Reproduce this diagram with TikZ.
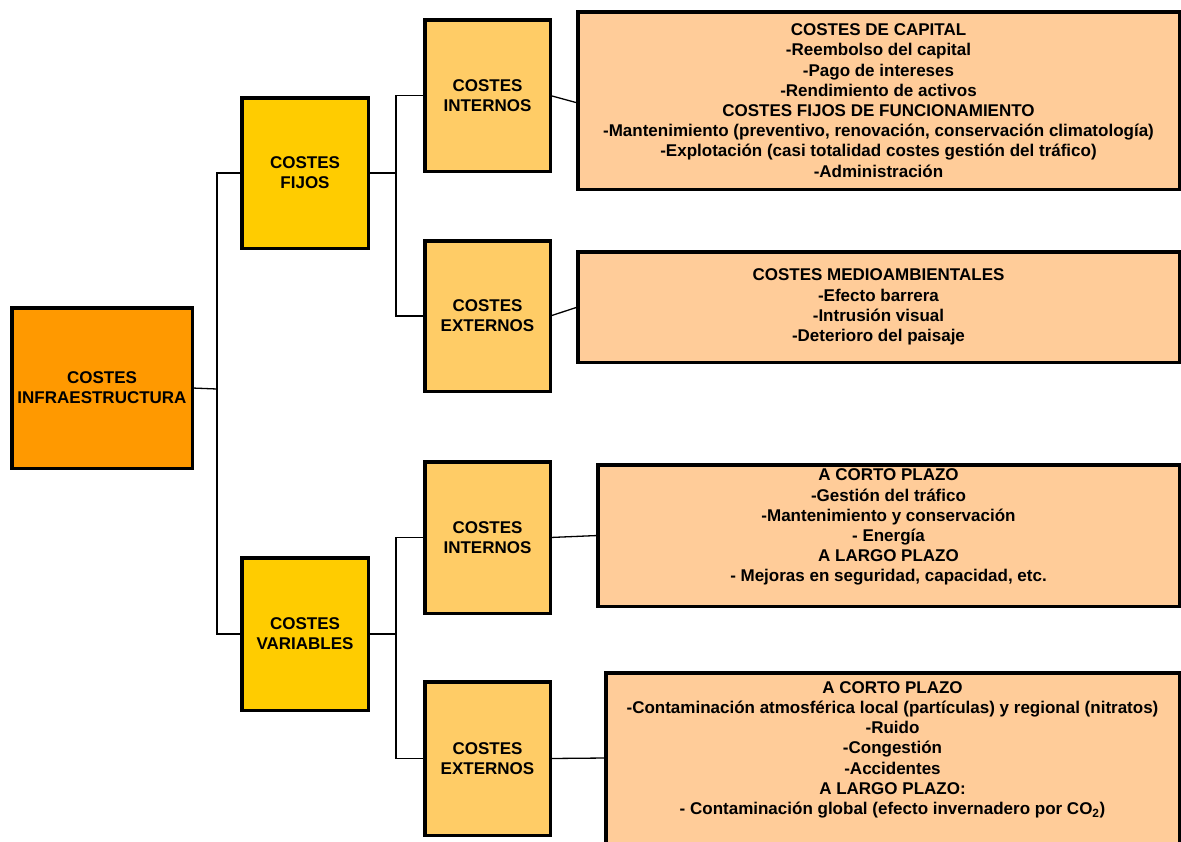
\documentclass[tikz,border=0pt]{standalone}
\usepackage{fontspec}
\setmainfont{Liberation Sans}
\definecolor{rootc}{HTML}{FF9900}
\definecolor{midc}{HTML}{FFCC00}
\definecolor{subc}{HTML}{FFCC66}
\definecolor{infoc}{HTML}{FFCC99}
\tikzset{
  box/.style={draw=black, line width=3.5pt, inner sep=0pt, outer sep=0pt, align=center,
    font=\fontsize{17}{20.2}\selectfont\bfseries},
  conn/.style={line width=1.3pt, draw=black},
}
\begin{document}
\begin{tikzpicture}[x=1pt,y=-1pt]
\useasboundingbox (0,0) rectangle (1181,841);
\fill[white] (0,0) rectangle (1181,841);
\clip (0,0) rectangle (1181,841);

\node[box, fill=rootc, minimum width=180.5, minimum height=160.5] (root) at (102,388) {COSTES\\INFRAESTRUCTURA};
\node[box, fill=midc, minimum width=126.5, minimum height=150.5] (fijos) at (305,173) {COSTES\\FIJOS};
\node[box, fill=midc, minimum width=126.5, minimum height=152.5] (var) at (305,634) {COSTES\\VARIABLES};
\node[box, fill=subc, minimum width=125.5, minimum height=151.5] (int1) at (487.5,95.5) {COSTES\\INTERNOS};
\node[box, fill=subc, minimum width=125.5, minimum height=150.5] (ext1) at (487.5,316) {COSTES\\EXTERNOS};
\node[box, fill=subc, minimum width=125.5, minimum height=151.5] (int2) at (487.5,537.5) {COSTES\\INTERNOS};
\node[box, fill=subc, minimum width=125.5, minimum height=153.5] (ext2) at (487.5,758.5) {COSTES\\EXTERNOS};

\node[box, fill=infoc, minimum width=601.5, minimum height=177.5] (box1) at (878.5,100.5)
 {COSTES DE CAPITAL\\-Reembolso del capital\\-Pago de intereses\\-Rendimiento de activos\\COSTES FIJOS DE FUNCIONAMIENTO\\-Mantenimiento (preventivo, renovación, conservación climatología)\\-Explotación (casi totalidad costes gestión del tráfico)\\-Administración};
\node[box, fill=infoc, minimum width=601.5, minimum height=110.5] (box2) at (878.5,307)
 {COSTES MEDIOAMBIENTALES\\-Efecto barrera\\-Intrusión visual\\-Deterioro del paisaje};
\node[box, fill=infoc, minimum width=581.5, minimum height=141.5] (box3) at (888.5,535.5)
 {A CORTO PLAZO\\-Gestión del tráfico\\-Mantenimiento y conservación\\- Energía\\A LARGO PLAZO\\- Mejoras en seguridad, capacidad, etc.\\\mbox{}};
\node[box, fill=infoc, minimum width=573.5, minimum height=170.5] (box4) at (892.5,758)
 {A CORTO PLAZO\\-Contaminación atmosférica local (partículas) y regional (nitratos)\\-Ruido\\-Congestión\\-Accidentes\\A LARGO PLAZO:\\- Contaminación global (efecto invernadero por CO\textsubscript{2})\\\mbox{}};

\coordinate (j1) at (217,389);
\coordinate (j2) at (396,173);
\coordinate (j3) at (396,634);

\draw[conn] (root.east) -- (j1);
\draw[conn] (fijos.west) -| (j1);
\draw[conn] (var.west) -| (j1);
\draw[conn] (fijos.east) -- (j2);
\draw[conn] (int1.west) -| (j2);
\draw[conn] (ext1.west) -| (j2);
\draw[conn] (var.east) -- (j3);
\draw[conn] (int2.west) -| (j3);
\draw[conn] (ext2.west) -| (j3);
\draw[conn] (int1.east) -- ([yshift=-2.5pt]box1.west);
\draw[conn] (ext1.east) -- (box2.west);
\draw[conn] (int2.east) -- (box3.west);
\draw[conn] (ext2.east) -- (box4.west);
\end{tikzpicture}
\end{document}
